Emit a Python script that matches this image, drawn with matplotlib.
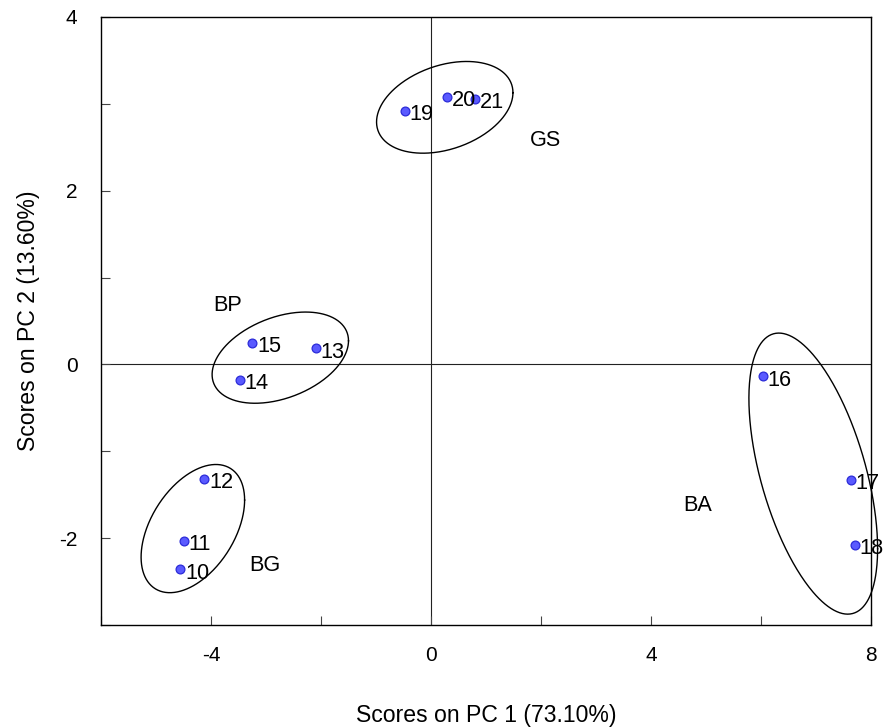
import numpy as np
import matplotlib
matplotlib.use("Agg")
import matplotlib.pyplot as plt
from matplotlib.ticker import MultipleLocator

plt.rcParams['font.family'] = ['Liberation Sans', 'DejaVu Sans']
plt.rcParams['axes.unicode_minus'] = False

# sample scores
sample_ids = ['10', '11', '12', '13', '14', '15', '16', '17', '18', '19', '20', '21']
pc1 = [-4.56, -4.49, -4.12, -2.10, -3.475, -3.25, 6.03, 7.63, 7.70, -0.47, 0.295, 0.796]
pc2 = [-2.356, -2.03, -1.318, 0.188, -0.176, 0.25, -0.138, -1.326, -2.076, 2.92, 3.083, 3.06]

# group ellipses: centre, half-extent along x, half-extent along y, correlation
groups = ['BG', 'BP', 'BA', 'GS']
ell_cx = [-4.33, -2.74, 6.95, 0.25]
ell_cy = [-1.89, 0.078, -1.257, 2.96]
ell_hx = [0.941, 1.24, 1.17, 1.24]
ell_hy = [0.738, 0.525, 1.618, 0.528]
ell_rho = [0.445, 0.37, -0.535, 0.32]

# group label positions
grp_lx = [-3.02, -3.70, 4.84, 2.08]
grp_ly = [-2.376, 0.615, -1.69, 2.514]

fig = plt.figure(figsize=(8.92, 7.28), dpi=100)
ax = fig.add_axes([101/892, 1-625/728, 770/892, 608/728])

ax.axhline(0, color='#222222', lw=0.8, zorder=1)
ax.axvline(0, color='#222222', lw=0.8, zorder=1)

t = np.linspace(0, 2*np.pi, 400)
for cx, cy, hx, hy, r in zip(ell_cx, ell_cy, ell_hx, ell_hy, ell_rho):
    xs = cx + hx*np.cos(t)
    ys = cy + r*hy*np.cos(t) + hy*np.sqrt(1-r**2)*np.sin(t)
    ax.plot(xs, ys, color='black', lw=1.0, clip_on=False, zorder=2)

ax.scatter(pc1, pc2, s=40, facecolor='#5a5aff', edgecolor='#2b2bd8', linewidth=0.9, zorder=3, clip_on=False)
for sid, x, y in zip(sample_ids, pc1, pc2):
    ax.annotate(sid, (x, y), xytext=(3.4, -6.9), textcoords='offset points',
                ha='left', va='baseline', fontsize=15.7, zorder=4, annotation_clip=False)

for g, x, y in zip(groups, grp_lx, grp_ly):
    ax.text(x, y, g, ha='center', va='baseline', fontsize=15.6)

ax.set_xlim(-6, 8)
ax.set_ylim(-3, 4)
ax.xaxis.set_minor_locator(MultipleLocator(2))
ax.yaxis.set_minor_locator(MultipleLocator(1))
ax.set_xticks([-4, 0, 4, 8])
ax.set_yticks([-2, 0, 2, 4])
ax.tick_params(which='both', direction='in', length=6.5, width=0.8, color='#444444', labelsize=15)
ax.tick_params(axis='x', which='major', pad=15)
ax.tick_params(axis='y', which='major', pad=17)
for sp in ax.spines.values():
    sp.set_linewidth(1.0)
    sp.set_color('black')

ax.set_xlabel('Scores on PC 1 (73.10%)', fontsize=16.6, labelpad=28)
ax.set_ylabel('Scores on PC 2 (13.60%)', fontsize=16.6, labelpad=14)

fig.savefig('out.png', dpi=100)
